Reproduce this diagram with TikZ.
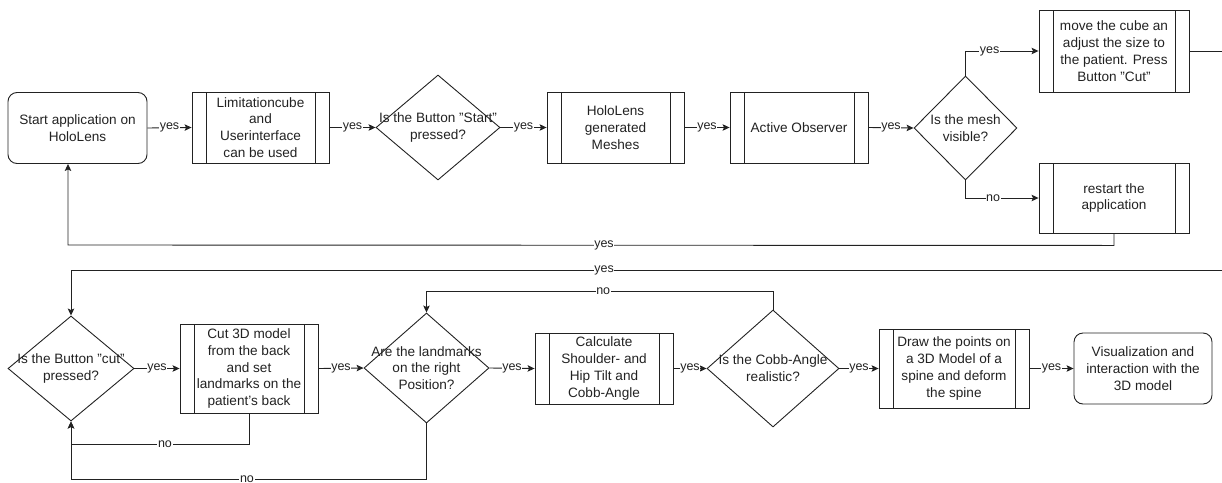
\documentclass[tikz,border=0pt]{standalone}
\usepackage{fontspec}
\setmainfont{Liberation Sans}
\usetikzlibrary{shapes.geometric,arrows.meta}
\definecolor{ink}{HTML}{222222}
\begin{document}
\begin{tikzpicture}[x=1pt,y=-1pt,
  every node/.style={font=\fontsize{13.6}{16.8}\selectfont, text=ink},
  base/.style={draw=ink, line width=0.9pt, inner sep=0pt, align=center},
  rbox/.style={base, rounded corners=9pt},
  pbox/.style={base, path picture={
      \draw[ink, line width=0.9pt]
        ([xshift=14pt]path picture bounding box.north west) -- ([xshift=14pt]path picture bounding box.south west)
        ([xshift=-14pt]path picture bounding box.north east) -- ([xshift=-14pt]path picture bounding box.south east);}},
  dia/.style={draw=ink, line width=0.9pt, diamond, inner sep=0pt},
  dtext/.style={align=center, inner sep=0pt},
  conn/.style={draw=ink, line width=0.9pt, -{Stealth[length=7pt,width=6.5pt,inset=1.5pt]}},
  lbl/.style={fill=white, inner sep=0.6pt, font=\fontsize{12.5}{13}\selectfont}
]
\useasboundingbox (0,0) rectangle (1222,482);

% top row
\node[rbox, minimum width=139pt, minimum height=71pt] (start) at (77.5,128) {Start application on\\HoloLens};
\node[pbox, minimum width=137pt, minimum height=71pt] (lim) at (260.5,127.5) {Limitationcube\\and\\Userinterface\\can be used};
\node[dia, minimum width=124pt, minimum height=105pt] (d1) at (438,127.5) {};
\node[dtext] (d1t) at (d1) {Is the Button "Start"\\pressed?};
\node[pbox, minimum width=137pt, minimum height=71pt] (holo) at (615.5,127.5) {HoloLens\\generated\\Meshes};
\node[pbox, minimum width=138pt, minimum height=71pt] (active) at (799,127.5) {Active Observer};
\node[dia, minimum width=103pt, minimum height=104pt] (mesh) at (965.5,128) {};
\node[dtext] (mesht) at (mesh) {Is the mesh\\visible?};
\node[pbox, minimum width=150pt, minimum height=82pt] (move) at (1114,51) {move the cube an\\adjust the size to\\the patient. Press\\Button "Cut"};
\node[pbox, minimum width=150pt, minimum height=70pt] (restart) at (1114,198) {restart the\\application};

% bottom row
\node[dia, minimum width=126pt, minimum height=105pt] (cut) at (71,368.5) {};
\node[dtext] (cutt) at (cut) {Is the Button "cut"\\pressed?};
\node[pbox, minimum width=138pt, minimum height=89pt] (cut3d) at (249,368.5) {Cut 3D model\\from the back\\and set\\landmarks on the\\patient's back};
\node[dia, minimum width=125pt, minimum height=110pt] (land) at (426.5,368) {};
\node[dtext] (landt) at (land) {Are the landmarks\\on the right\\Position?};
\node[pbox, minimum width=138pt, minimum height=71pt] (calc) at (604,368.5) {Calculate\\Shoulder- and\\Hip Tilt and\\Cobb-Angle};
\node[dia, minimum width=132pt, minimum height=117pt] (cobb) at (773,368.5) {};
\node[dtext] (cobbt) at (cobb) {Is the Cobb-Angle\\realistic?};
\node[pbox, minimum width=150pt, minimum height=79pt] (drawb) at (954,368.5) {Draw the points on\\a 3D Model of a\\spine and deform\\the spine};
\node[rbox, minimum width=138pt, minimum height=71pt] (vis) at (1143,368.5) {Visualization and\\interaction with the\\3D model};

% connectors top row
\draw[conn] (start.east) -- node[lbl]{yes} (lim.west);
\draw[conn] (lim.east) -- node[lbl]{yes} (d1.west);
\draw[conn] (d1.east) -- node[lbl]{yes} (holo.west);
\draw[conn] (holo.east) -- node[lbl]{yes} (active.west);
\draw[conn] (active.east) -- node[lbl]{yes} (mesh.west);
\draw[conn] (mesh.north) |- node[lbl,pos=0.665]{yes} (move.west);
\draw[conn] (mesh.south) |- node[lbl,pos=0.689]{no} (restart.west);
\draw[conn] (restart.south) -- ++(0,12) -- node[lbl,pos=0.4876]{yes} ([xshift=-9.5pt]start.south |- 0,245) -- ([xshift=-9.5pt]start.south);

% long connector to second row
\draw[conn] (move.east) -- (1240,51) -- (1240,270) -- node[lbl,pos=0.544]{yes} (cut.north |- 0,270) -- (cut.north);

% connectors bottom row
\draw[conn] (cut.east) -- node[lbl]{yes} (cut3d.west);
\draw[conn] (cut3d.east) -- node[lbl]{yes} (land.west);
\draw[conn] (land.east) -- node[lbl]{yes} (calc.west);
\draw[conn] (calc.east) -- node[lbl]{yes} (cobb.west);
\draw[conn] (cobb.east) -- node[lbl]{yes} (drawb.west);
\draw[conn] (drawb.east) -- node[lbl]{yes} (vis.west);
\draw[conn] (cobb.north) -- ++(0,-18) -| node[lbl,pos=0.245]{no} (land.north);
\draw[conn] (cut3d.south) -- ++(0,31) -| node[lbl,pos=0.236]{no} (cut.south);
\draw[conn] (land.south) -- ++(0,56) -| node[lbl,pos=0.2525]{no} (cut.south);
\end{tikzpicture}
\end{document}
